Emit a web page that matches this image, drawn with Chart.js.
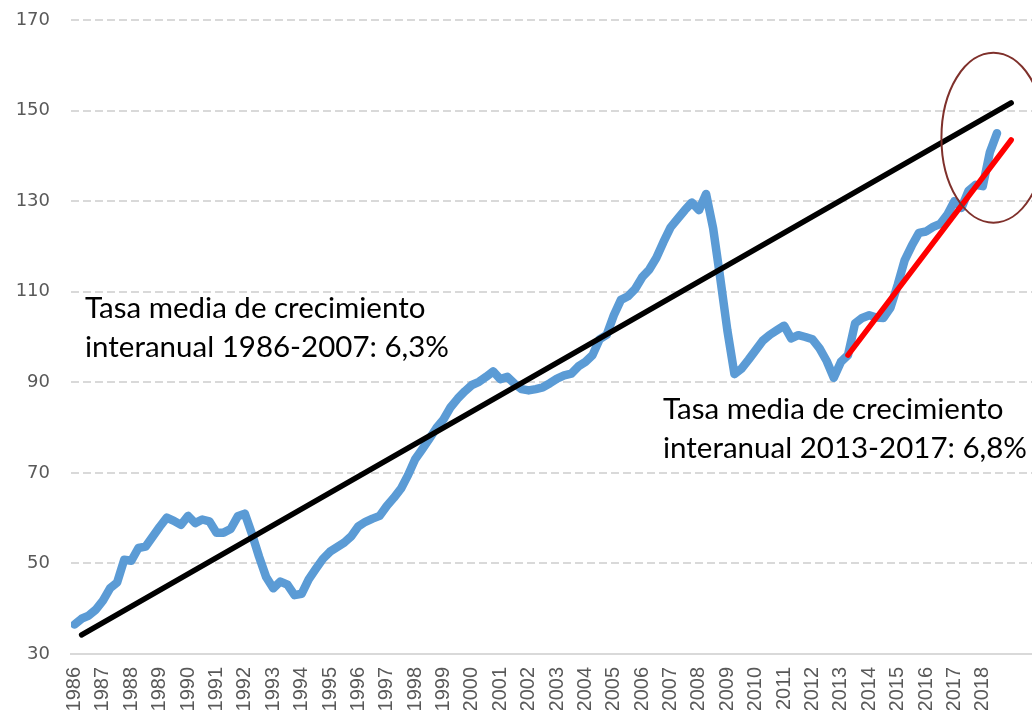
<!DOCTYPE html>
<html><head><meta charset="utf-8">
<script src="https://cdn.jsdelivr.net/npm/chart.js@4/dist/chart.umd.min.js"></script>
<style>
html,body{margin:0;padding:0;background:#fff;overflow:hidden;width:1032px;height:710px}
#wrap{position:absolute;left:0;top:0;width:1036px;height:710px}
</style>
</head><body>
<div id="wrap"><canvas id="c" width="1036" height="710"></canvas></div>
<script>
// ---- categories ----
const yearLabels = ['1986','1987','1988','1989','1990','1991','1992','1993','1994','1995','1996','1997','1998','1999','2000','2001','2002','2003','2004','2005','2006','2007','2008','2009','2010','2011','2012','2013','2014','2015','2016','2017','2018'];
const axisYears = [...yearLabels, '2019'];
const quarterNames = ['T1','T2','T3','T4'];
const quarters = axisYears.flatMap(y => quarterNames.map(q => y + ' ' + q));

// ---- series: índice trimestral desde 1986 T1 ----
const indice = [
  36.5, 37.8, 38.5, 39.8,   41.8, 44.5, 45.8, 50.8,   50.6, 53.4, 53.7, 55.9,   58.1, 60.1, 59.4, 58.5,
  60.5, 58.9, 59.7, 59.3,   56.8, 56.8, 57.6, 60.4,   61.0, 56.5, 51.5, 47.0,   44.5, 46.0, 45.3, 43.0,
  43.3, 46.5, 48.8, 51.0,   52.6, 53.6, 54.6, 56.0,   58.2, 59.2, 59.9, 60.5,   62.7, 64.5, 66.5, 69.5,
  73.0, 75.2, 77.5, 79.9,   81.8, 84.5, 86.4, 88.0,   89.4, 90.1, 91.2, 92.4,   90.7, 91.2, 89.7, 88.5,
  88.2, 88.5, 88.9, 89.8,   90.8, 91.5, 91.9, 93.5,   94.5, 96.0, 99.5, 100.5,  104.8, 108.2, 109.0, 110.6,
  113.2, 114.9, 117.5, 121.0, 124.2, 126.1, 128.0, 129.7, 128.0, 131.6, 124.0, 113.0, 101.5, 91.8, 93.0, 95.0,
  97.1, 99.2, 100.5, 101.5, 102.5, 99.7, 100.4, 100.0, 99.5, 97.5, 94.7, 91.0,  94.5, 96.0, 103.0, 104.2,
  104.8, 104.3, 104.2, 106.5, 111.5, 117.0, 120.2, 123.0, 123.3, 124.3, 125.0, 127.0, 130.0, 128.5, 132.3, 133.6,
  133.3, 140.8, 145.0
];

// ---- tendencias (extremos de cada recta) ----
const tendencia1986Periodos = ['1986 T2', '2019 T1'];
const tendencia1986Valores = [34.2, 151.7];
const tendencia2013Periodos = ['2013 T2', '2019 T1'];
const tendencia2013Valores = [96.0, 143.5];

// ---- y ticks ----
const yMin = 30, yMax = 170, yStep = 20;

// ---- annotation texts ----
const nota1 = ['Tasa media de crecimiento', 'interanual 1986-2007: 6,3%'];
const nota2 = ['Tasa media de crecimiento', 'interanual 2013-2017: 6,8%'];

const qIndex = p => quarters.indexOf(p);
const seriePuntos = indice.map((v, i) => ({x: i, y: v}));
const rectaPuntos = (ps, vs) => ps.map((p, k) => ({x: qIndex(p), y: vs[k]}));

const annotations = {
  id: 'annotations',
  afterDatasetsDraw(chart) {
    const ctx = chart.ctx;
    const xs = chart.scales.x, ys = chart.scales.y;
    ctx.save();
    // ellipse
    const cx = xs.getPixelForValue(129.5);
    const cy = ys.getPixelForValue(144);
    ctx.beginPath();
    ctx.ellipse(cx, cy, 52, 85, 0, 0, Math.PI * 2);
    ctx.strokeStyle = '#7f302b';
    ctx.lineWidth = 2;
    ctx.stroke();
    // texts
    ctx.fillStyle = '#000';
    ctx.font = '29.5px Lato';
    ctx.textAlign = 'left';
    ctx.textBaseline = 'alphabetic';
    ctx.fillText(nota1[0], 85, 318);
    ctx.fillText(nota1[1], 85, 357);
    ctx.fillText(nota2[0], 663, 419);
    ctx.fillText(nota2[1], 663, 458);
    ctx.restore();
  }
};

new Chart(document.getElementById('c'), {
  type: 'line',
  data: {
    datasets: [
      {
        label: 'Tendencia 2013-2017',
        data: rectaPuntos(tendencia2013Periodos, tendencia2013Valores),
        borderColor: '#ff0000', borderWidth: 5.5, pointRadius: 0,
        borderCapStyle: 'round', borderJoinStyle: 'round', fill: false, tension: 0
      },
      {
        label: 'Tendencia 1986-2007',
        data: rectaPuntos(tendencia1986Periodos, tendencia1986Valores),
        borderColor: '#000000', borderWidth: 5.5, pointRadius: 0,
        borderCapStyle: 'round', borderJoinStyle: 'round', fill: false, tension: 0
      },
      {
        label: 'Índice',
        data: seriePuntos,
        borderColor: '#5b9bd5', borderWidth: 8.5, pointRadius: 0,
        borderCapStyle: 'round', borderJoinStyle: 'round', fill: false, tension: 0
      }
    ]
  },
  options: {
    responsive: false,
    devicePixelRatio: 1,
    animation: false,
    layout: { padding: { top: 20, left: 0, right: 0, bottom: 0 } },
    plugins: { legend: { display: false }, tooltip: { enabled: false } },
    scales: {
      x: {
        type: 'linear',
        min: -0.5, max: quarters.length - 0.5,
        grid: { display: false, drawTicks: false },
        border: { display: true, color: '#d9d9d9', width: 2 },
        afterBuildTicks: function(s) {
          s.ticks = yearLabels.map(y => ({ value: qIndex(y + ' T1') }));
        },
        ticks: {
          autoSkip: false, minRotation: 90, maxRotation: 90, padding: 13,
          color: '#595959', font: { family: 'Liberation Sans', size: 20 },
          callback: function(v) {
            const q = quarters[Math.round(v)];
            return q ? q.split(' ')[0] : '';
          }
        },
        afterFit: function(s) { s.height = 56; s.paddingLeft = 0; s.paddingRight = 0; }
      },
      y: {
        min: yMin, max: yMax,
        grid: { color: '#d9d9d9', lineWidth: 2, drawTicks: false },
        border: { display: false, dash: [8, 4] },
        ticks: {
          stepSize: yStep, padding: 21, color: '#595959',
          font: { family: 'DejaVu Sans', size: 18 }
        },
        afterFit: function(s) { s.width = 71; s.paddingTop = 0; s.paddingBottom = 0; }
      }
    }
  },
  plugins: [annotations]
});
</script>
</body></html>
